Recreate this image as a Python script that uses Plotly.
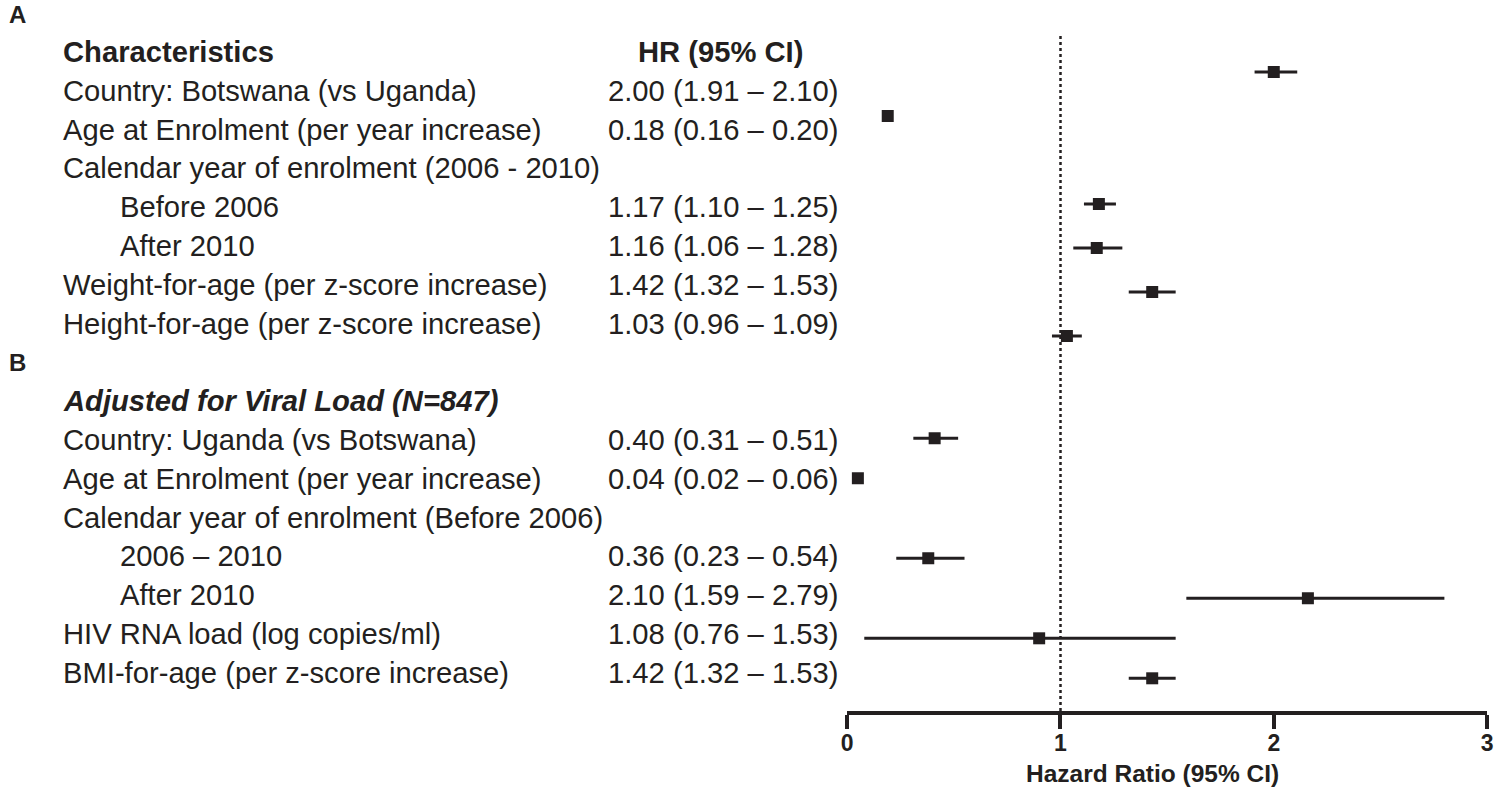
import plotly.graph_objects as go

# ---------------- data ----------------
header_a = "Characteristics"
labels_a = [
    "Country: Botswana (vs Uganda)",
    "Age at Enrolment (per year increase)",
    "Calendar year of enrolment (2006 - 2010)",
    "Before 2006",
    "After 2010",
    "Weight-for-age (per z-score increase)",
    "Height-for-age (per z-score increase)",
]
hr_text_a = [
    "2.00 (1.91 – 2.10)",
    "0.18 (0.16 – 0.20)",
    "",
    "1.17 (1.10 – 1.25)",
    "1.16 (1.06 – 1.28)",
    "1.42 (1.32 – 1.53)",
    "1.03 (0.96 – 1.09)",
]
hr_a = [2.00, 0.19, None, 1.18, 1.17, 1.43, 1.03]
lo_a = [1.91, 0.17, None, 1.11, 1.06, 1.32, 0.96]
hi_a = [2.11, 0.21, None, 1.26, 1.29, 1.54, 1.10]

header_b = "Adjusted for Viral Load (N=847)"
labels_b = [
    "Country: Uganda (vs Botswana)",
    "Age at Enrolment (per year increase)",
    "Calendar year of enrolment (Before 2006)",
    "2006 – 2010",
    "After 2010",
    "HIV RNA load (log copies/ml)",
    "BMI-for-age (per z-score increase)",
]
hr_text_b = [
    "0.40 (0.31 – 0.51)",
    "0.04 (0.02 – 0.06)",
    "",
    "0.36 (0.23 – 0.54)",
    "2.10 (1.59 – 2.79)",
    "1.08 (0.76 – 1.53)",
    "1.42 (1.32 – 1.53)",
]
hr_b = [0.41, 0.05, None, 0.38, 2.16, 0.90, 1.43]
lo_b = [0.31, 0.03, None, 0.23, 1.59, 0.08, 1.32]
hi_b = [0.52, 0.07, None, 0.55, 2.80, 1.54, 1.54]

x_ticks = [0, 1, 2, 3]
x_title = "Hazard Ratio (95% CI)"
ref_value = 1

# ---------------- layout helpers ----------------
W, H = 1500, 787
INK = "#231f20"
FONT = "Liberation Sans, Arial, Helvetica, sans-serif"
FS = 29.2
PX_L, PX_R = 848, 1493
PX_T, PX_B = 34, 711
indent_a = [False, False, False, True, True, False, False]
indent_b = [False, False, False, True, True, False, False]
rows_a = list(range(1, 8))
rows_b = list(range(10, 17))


def px(x):
    return x / W


def text_y(k):
    # vertical centre of table row k (pixels from top)
    return 52 + 38.8 * k


def mark_y_a(k):
    return 28 + 44 * k


def mark_y_b(k):
    return 38.3 + 40 * k


fig = go.Figure()

# reference line at HR = 1
fig.add_trace(go.Scatter(
    x=[ref_value, ref_value], y=[PX_B, PX_T], mode="lines",
    line=dict(color=INK, width=2.5, dash="dot"),
    showlegend=False, hoverinfo="skip",
))


def add_panel(hr, lo, hi, rows, ypos):
    xs, ys, ep, em = [], [], [], []
    for v, l, u, r in zip(hr, lo, hi, rows):
        if v is None:
            continue
        xs.append(v)
        ys.append(ypos(r))
        ep.append(u - v)
        em.append(v - l)
    fig.add_trace(go.Scatter(
        x=xs, y=ys, mode="markers",
        marker=dict(symbol="square", size=12, color=INK, line=dict(width=0)),
        error_x=dict(type="data", array=ep, arrayminus=em, symmetric=False,
                     thickness=3, width=0, color=INK),
        showlegend=False, hoverinfo="x",
    ))


add_panel(hr_a, lo_a, hi_a, rows_a, mark_y_a)
add_panel(hr_b, lo_b, hi_b, rows_b, mark_y_b)

ann = []


def txt(x, y, s, size=FS, anchor="left", bold=False, italic=False, vanchor="middle"):
    if bold:
        s = "<b>" + s + "</b>"
    if italic:
        s = "<i>" + s + "</i>"
    ann.append(dict(x=px(x), y=1 - y / H, xref="paper", yref="paper", text=s,
                    showarrow=False, xanchor=anchor, yanchor=vanchor,
                    borderpad=0, borderwidth=0,
                    font=dict(family=FONT, size=size, color=INK)))


LX, IX = 57, 115
txt(3, 1, "A", size=24, bold=True, vanchor="top")
txt(3, text_y(8), "B", size=24, bold=True)
txt(LX, text_y(0), header_a, bold=True)
txt(720, text_y(0), "HR (95% CI)", anchor="center", bold=True)
txt(LX, text_y(9), header_b, bold=True, italic=True)
for labels, texts, rows, ind in ((labels_a, hr_text_a, rows_a, indent_a),
                                 (labels_b, hr_text_b, rows_b, indent_b)):
    for lab, t, r, i in zip(labels, texts, rows, ind):
        txt(IX if i else LX, text_y(r), lab)
        if t:
            txt(839, text_y(r), t, anchor="right")

txt(1156, 773, x_title, size=24.5, anchor="center", bold=True)

fig.update_layout(
    width=W, height=H,
    margin=dict(l=0, r=0, t=0, b=0),
    paper_bgcolor="white", plot_bgcolor="white",
    font=dict(family=FONT, color=INK),
    xaxis=dict(domain=[px(PX_L), px(PX_R)], range=[0, 3], showgrid=False,
               zeroline=False, showline=True, linewidth=4, linecolor=INK,
               ticks="outside", ticklen=14, tickwidth=4, tickcolor=INK,
               ticklabelstandoff=-6,
               tickvals=x_ticks, ticktext=[str(t) for t in x_ticks],
               tickfont=dict(family=FONT, size=23, color=INK, weight="bold"),
               fixedrange=True),
    yaxis=dict(domain=[1 - PX_B / H, 1 - PX_T / H], range=[PX_B, PX_T],
               visible=False, showgrid=False, zeroline=False, fixedrange=True),
    annotations=ann,
)

fig.write_html(
    "out.html",
    config={"displayModeBar": False},
    post_script="document.body.style.margin='0';document.body.style.overflow='hidden';",
)
